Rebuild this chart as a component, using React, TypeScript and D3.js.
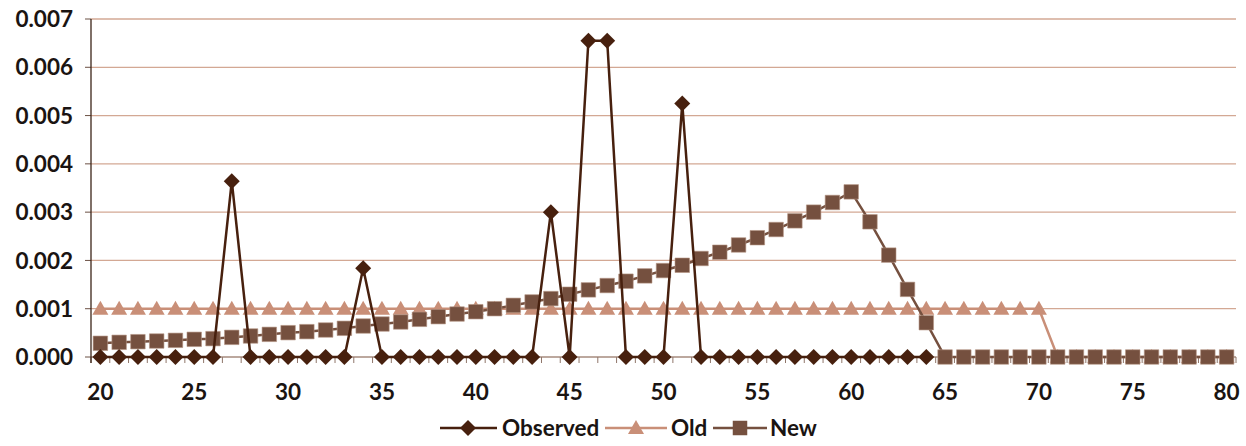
import React from "react";
import * as d3 from "d3";

// Ages on the category axis
const ages: number[] = d3.range(20, 81);

// Observed rates, ages 20–64
const observedAges: number[] = d3.range(20, 65);
const observedValues: number[] = [
  0, 0, 0, 0, 0, 0, 0, 0.00364, 0, 0,
  0, 0, 0, 0, 0.00184, 0, 0, 0, 0, 0,
  0, 0, 0, 0, 0.003, 0, 0.00655, 0.00655, 0, 0,
  0, 0.00525, 0, 0, 0, 0, 0, 0, 0, 0,
  0, 0, 0, 0, 0,
];

// Old schedule: flat up to 70, zero afterwards
const oldValues: number[] = [
  0.001, 0.001, 0.001, 0.001, 0.001, 0.001, 0.001, 0.001, 0.001, 0.001,
  0.001, 0.001, 0.001, 0.001, 0.001, 0.001, 0.001, 0.001, 0.001, 0.001,
  0.001, 0.001, 0.001, 0.001, 0.001, 0.001, 0.001, 0.001, 0.001, 0.001,
  0.001, 0.001, 0.001, 0.001, 0.001, 0.001, 0.001, 0.001, 0.001, 0.001,
  0.001, 0.001, 0.001, 0.001, 0.001, 0.001, 0.001, 0.001, 0.001, 0.001,
  0.001, 0, 0, 0, 0, 0, 0, 0, 0, 0,
  0,
];

// New schedule
const newValues: number[] = [
  0.000284, 0.000304, 0.000317, 0.000331, 0.000345, 0.000366, 0.00038, 0.000407, 0.000435, 0.000469,
  0.000504, 0.000525, 0.000559, 0.000594, 0.000642, 0.000683, 0.000725, 0.00078, 0.000835, 0.00089,
  0.000938, 0.001, 0.00107, 0.00114, 0.00121, 0.0013, 0.00139, 0.00148, 0.00157, 0.00168,
  0.00179, 0.0019, 0.00204, 0.00217, 0.00232, 0.00247, 0.00264, 0.00282, 0.003, 0.0032,
  0.00342, 0.0028, 0.00211, 0.0014, 0.00071, 0, 0, 0, 0, 0,
  0, 0, 0, 0, 0, 0, 0, 0, 0, 0,
  0,
];

const yTicks: number[] = [0, 0.001, 0.002, 0.003, 0.004, 0.005, 0.006, 0.007];
const xTickLabels: number[] = [20, 25, 30, 35, 40, 45, 50, 55, 60, 65, 70, 75, 80];

const C_OBS = "#47200e";
const C_OLD = "#c98f78";
const C_NEW = "#75503f";
const C_GRID = "#d3a894";
const FONT = "Lato, 'Open Sans', sans-serif";
const FS = 22.5;

const W = 1246;
const H = 446;
const left = 91;
const right = 1236;
const top = 19;
const bottom = 357;

type Pt = [number, number];

export default function App() {
  const x = d3.scalePoint<number>().domain(ages).range([left, right]).padding(0.5);
  const step = x.step();
  const y = d3.scaleLinear().domain([0, 0.007]).range([bottom, top]);
  const line = d3
    .line<Pt>()
    .x((d) => x(d[0]) as number)
    .y((d) => y(d[1]));

  const obsPts: Pt[] = observedAges.map((a, i) => [a, observedValues[i]]);
  const oldPts: Pt[] = ages.map((a, i) => [a, oldValues[i]]);
  const newPts: Pt[] = ages.map((a, i) => [a, newValues[i]]);

  const diamond = (cx: number, cy: number, r: number) =>
    `M${cx},${cy - r}L${cx + r},${cy}L${cx},${cy + r}L${cx - r},${cy}Z`;
  const triangle = (cx: number, cy: number) =>
    `M${cx},${cy - 8}L${cx + 8},${cy + 6}L${cx - 8},${cy + 6}Z`;
  const square = (cx: number, cy: number, s: number) =>
    `M${cx - s / 2},${cy - s / 2}h${s}v${s}h${-s}Z`;

  const boundaries = d3.range(0, ages.length + 1).map((i) => left + i * step);

  return (
    <svg width={W} height={H} style={{ position: "absolute", left: 0, top: 0, background: "#fff" }}>
      {/* gridlines and y ticks */}
      {yTicks.map((t) => (
        <g key={t}>
          {t > 0 && (
            <line x1={left} x2={right} y1={y(t)} y2={y(t)} stroke={C_GRID} strokeWidth={1.3} />
          )}
          <line x1={left - 6} x2={left} y1={y(t)} y2={y(t)} stroke="#6b5044" strokeWidth={1} />
          <text
            x={73}
            y={y(t)}
            dy="0.36em"
            textAnchor="end"
            fontFamily={FONT}
            fontWeight={700}
            fontSize={FS}
            fill="#1a1412"
          >
            {t.toFixed(3)}
          </text>
        </g>
      ))}

      {/* x axis */}
      <line x1={left} x2={right} y1={bottom} y2={bottom} stroke="#a68b7e" strokeWidth={1.3} />
      {boundaries.map((bx, i) => (
        <line key={i} x1={bx} x2={bx} y1={bottom} y2={bottom + 6} stroke="#8f766a" strokeWidth={1} />
      ))}
      <line x1={left} x2={left} y1={top} y2={bottom + 6} stroke="#3b2418" strokeWidth={1.3} />
      {xTickLabels.map((v) => (
        <text
          key={v}
          x={x(v) as number}
          y={400}
          textAnchor="middle"
          fontFamily={FONT}
          fontWeight={700}
          fontSize={FS}
          fill="#1a1412"
        >
          {v}
        </text>
      ))}

      {/* Old */}
      <path d={line(oldPts) ?? ""} fill="none" stroke={C_OLD} strokeWidth={2.5} />
      {oldPts.map((p, i) => (
        <path key={i} d={triangle(x(p[0]) as number, y(p[1]))} fill={C_OLD} />
      ))}

      {/* New */}
      <path d={line(newPts) ?? ""} fill="none" stroke={C_NEW} strokeWidth={2.5} />
      {newPts.map((p, i) => (
        <path key={i} d={square(x(p[0]) as number, y(p[1]), 14.5)} fill={C_NEW} stroke="#b69585" strokeWidth={0.6} />
      ))}

      {/* Observed */}
      <path d={line(obsPts) ?? ""} fill="none" stroke={C_OBS} strokeWidth={2.5} />
      {obsPts.map((p, i) => (
        <path key={i} d={diamond(x(p[0]) as number, y(p[1]), 8)} fill={C_OBS} />
      ))}

      {/* legend */}
      <g fontFamily={FONT} fontWeight={700} fontSize={FS} fill="#1a1412">
        <line x1={440} x2={497} y1={428} y2={428} stroke={C_OBS} strokeWidth={2.5} />
        <path d={diamond(468, 428, 8)} fill={C_OBS} />
        <text x={502} y={436}>Observed</text>

        <line x1={605} x2={667} y1={428} y2={428} stroke={C_OLD} strokeWidth={2.5} />
        <path d={triangle(636, 428)} fill={C_OLD} />
        <text x={671} y={436}>Old</text>

        <line x1={713} x2={767} y1={428} y2={428} stroke={C_NEW} strokeWidth={2.5} />
        <path d={square(740, 428, 14.5)} fill={C_NEW} />
        <text x={770} y={436}>New</text>
      </g>
    </svg>
  );
}
